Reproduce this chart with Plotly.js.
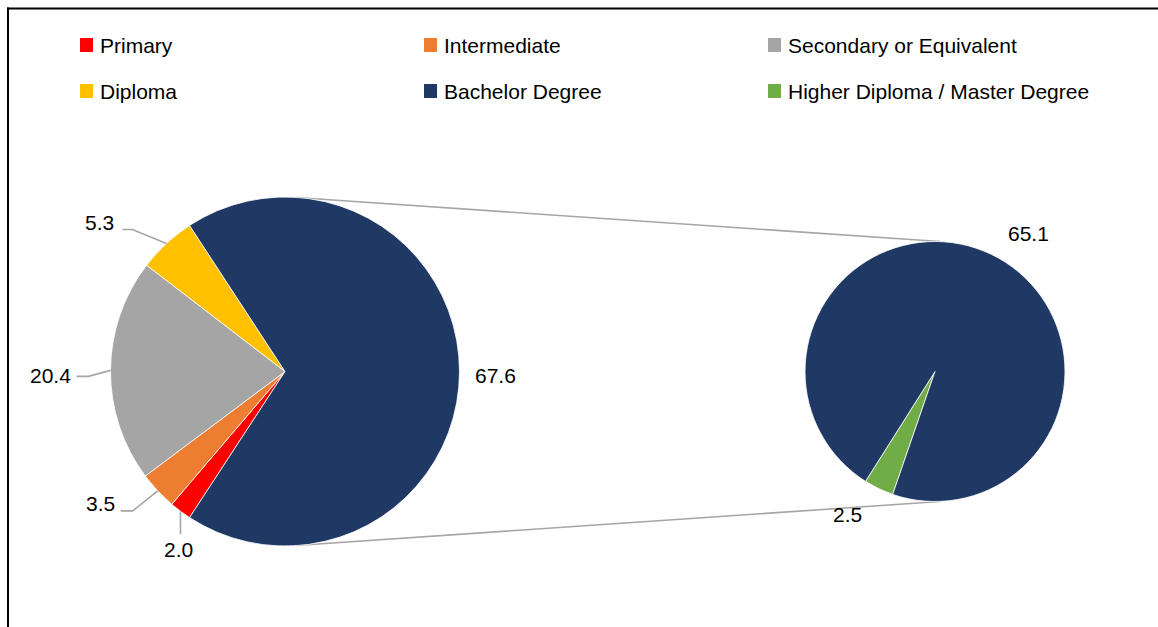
<!DOCTYPE html>
<html>
<head>
<meta charset="utf-8">
<script src="https://cdn.plot.ly/plotly-3.0.1.min.js"></script>
<style>html,body{margin:0;padding:0;background:#fff;}#chart{width:1158px;height:627px;}</style>
</head>
<body>
<div id="chart"></div>
<script>
// ---- data ----
const leftLabels = ['Primary', 'Intermediate', 'Secondary or Equivalent', 'Diploma', 'Bachelor Degree'];
const leftValues = [2.0, 3.5, 20.4, 5.3, 67.6];
const rightLabels = ['Higher Diploma / Master Degree', 'Bachelor Degree'];
const rightValues = [2.5, 65.1];
const legendLabels = ['Primary', 'Intermediate', 'Secondary or Equivalent', 'Diploma', 'Bachelor Degree', 'Higher Diploma / Master Degree'];

// ---- styles ----
const colorMap = {
  'Primary': '#FF0000',
  'Intermediate': '#ED7D31',
  'Secondary or Equivalent': '#A5A5A5',
  'Diploma': '#FFC000',
  'Bachelor Degree': '#203864',
  'Higher Diploma / Master Degree': '#70AD47'
};
const W = 1158, H = 627;
const FONT = 'Liberation Sans, Arial, sans-serif';
const FS = 21;
const px = x => x / W;
const py = y => 1 - y / H;

// pie geometry (pixels)
const P1 = {cx: 285, cy: 371.5, r: 174.5};
const P2 = {cx: 935, cy: 371.5, r: 130};

const total1 = leftValues.reduce((a, b) => a + b, 0);
const total2 = rightValues.reduce((a, b) => a + b, 0);
// split slice (last) centred at 3 o'clock
const rot1 = 90 + (leftValues[leftValues.length - 1] / total1 * 360) / 2;
const rot2 = 199;

function mids(values, total, rot) {
  let acc = rot; const out = [];
  values.forEach(v => { const d = v / total * 360; out.push(acc + d / 2); acc += d; });
  return out;
}
function edge(p, ang) { // ang clockwise from top, degrees
  const a = ang * Math.PI / 180;
  return [p.cx + p.r * Math.sin(a), p.cy - p.r * Math.cos(a)];
}

const data = [
  {
    type: 'pie', labels: leftLabels, values: leftValues, sort: false, direction: 'clockwise',
    rotation: rot1, textinfo: 'none', hoverinfo: 'label+value', showlegend: false,
    marker: {colors: leftLabels.map(l => colorMap[l]), line: {color: '#ffffff', width: 0.8}},
    domain: {x: [px(P1.cx - P1.r), px(P1.cx + P1.r)], y: [py(P1.cy + P1.r), py(P1.cy - P1.r)]}
  },
  {
    type: 'pie', labels: rightLabels, values: rightValues, sort: false, direction: 'clockwise',
    rotation: rot2, textinfo: 'none', hoverinfo: 'label+value', showlegend: false,
    marker: {colors: rightLabels.map(l => colorMap[l]), line: {color: '#ffffff', width: 0.8}},
    domain: {x: [px(P2.cx - P2.r), px(P2.cx + P2.r)], y: [py(P2.cy + P2.r), py(P2.cy - P2.r)]}
  }
];

const shapes = [];
const annotations = [];

// frame (top and left edges visible)
shapes.push({type: 'line', xref: 'paper', yref: 'paper', x0: px(7), y0: py(8.5), x1: px(1160), y1: py(8.5), line: {color: '#000', width: 2}});
shapes.push({type: 'line', xref: 'paper', yref: 'paper', x0: px(8), y0: py(7.5), x1: px(8), y1: py(630), line: {color: '#000', width: 2}});

// connector lines between the pies
shapes.push({type: 'line', xref: 'paper', yref: 'paper', layer: 'below',
  x0: px(P1.cx + 11), y0: py(P1.cy - P1.r + 0.5), x1: px(P2.cx + 5), y1: py(P2.cy - P2.r), line: {color: '#A6A6A6', width: 1.6}});
shapes.push({type: 'line', xref: 'paper', yref: 'paper', layer: 'below',
  x0: px(P1.cx + 11), y0: py(P1.cy + P1.r - 0.5), x1: px(P2.cx + 5), y1: py(P2.cy + P2.r), line: {color: '#A6A6A6', width: 1.6}});

// data labels (left pie) with leader lines
const leftLabelStyle = [
  {bx: 0, by: 23, run: 0, lx: -2, ly: 15, xa: 'center'},
  {bx: -25, by: 20, run: -12, lx: -4, ly: -7, xa: 'right'},
  {bx: -22, by: 6, run: -12, lx: -4, ly: -1, xa: 'right'},
  {bx: -34, by: -14, run: -10, lx: -6, ly: -7, xa: 'right'},
  {bx: 0, by: 0, run: 0, lx: 36, ly: 4, xa: 'center', noLine: true}
];
const m1 = mids(leftValues, total1, rot1);
leftValues.forEach((v, i) => {
  const s = leftLabelStyle[i];
  const e = edge(P1, m1[i]);
  const b = [e[0] + s.bx, e[1] + s.by];
  const c = [b[0] + s.run, b[1]];
  if (!s.noLine) {
    shapes.push({type: 'path', xref: 'paper', yref: 'paper',
      path: `M ${px(e[0])} ${py(e[1])} L ${px(b[0])} ${py(b[1])} L ${px(c[0])} ${py(c[1])}`,
      line: {color: '#A6A6A6', width: 1.6}});
  }
  annotations.push({xref: 'paper', yref: 'paper', x: px(c[0] + s.lx), y: py(c[1] + s.ly),
    xanchor: s.xa, yanchor: 'middle', showarrow: false, text: v.toFixed(1),
    font: {family: FONT, size: FS, color: '#000'}});
});

// data labels (right pie)
const rightLabelStyle = [
  {lx: -31, ly: 26},
  {lx: 37, ly: -21}
];
const m2 = mids(rightValues, total2, rot2);
rightValues.forEach((v, i) => {
  const e = edge(P2, m2[i]);
  const s = rightLabelStyle[i];
  annotations.push({xref: 'paper', yref: 'paper', x: px(e[0] + s.lx), y: py(e[1] + s.ly),
    xanchor: 'center', yanchor: 'middle', showarrow: false, text: v.toFixed(1),
    font: {family: FONT, size: FS, color: '#000'}});
});

// legend (3 columns x 2 rows)
const legCols = [80, 424, 768];
const legRows = [45, 91];
legendLabels.forEach((l, i) => {
  const x = legCols[i % 3], y = legRows[Math.floor(i / 3)];
  shapes.push({type: 'rect', xref: 'paper', yref: 'paper', x0: px(x), x1: px(x + 13), y0: py(y - 7), y1: py(y + 7),
    fillcolor: colorMap[l], line: {width: 0}});
  annotations.push({xref: 'paper', yref: 'paper', x: px(x + 18), y: py(y), xanchor: 'left', yanchor: 'middle',
    showarrow: false, text: l, font: {family: FONT, size: FS, color: '#000'}});
});

const layout = {
  width: W, height: H,
  margin: {l: 0, r: 0, t: 0, b: 0},
  paper_bgcolor: '#ffffff', plot_bgcolor: '#ffffff',
  showlegend: false,
  shapes: shapes,
  annotations: annotations,
  font: {family: FONT, size: FS, color: '#000'}
};

Plotly.newPlot('chart', data, layout, {displayModeBar: false, staticPlot: true});
</script>
</body>
</html>
